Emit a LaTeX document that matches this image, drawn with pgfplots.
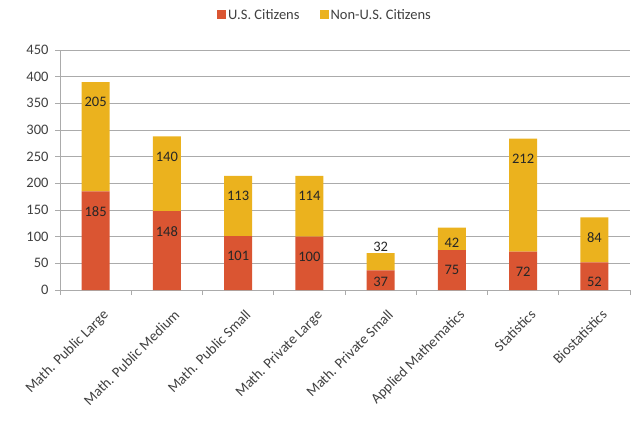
\documentclass[border=0pt]{standalone}
\usepackage{pgfplots}
\pgfplotsset{compat=1.18}
\usepackage{pgfplotstable}
\usepackage{fontspec}
\setmainfont{Carlito}
\definecolor{usred}{HTML}{DA5532}
\definecolor{nonyel}{HTML}{EBB21E}
\definecolor{gridgray}{HTML}{ABABAB}
\definecolor{txt}{HTML}{404040}
\newcommand\fs{\fontsize{14.5bp}{17bp}\selectfont}

\pgfplotstableread{
x y
0 185
1 148
2 101
3 100
4 37
5 75
6 72
7 52
}\us

\pgfplotstableread{
x y
0 205
1 140
2 113
3 114
4 32
5 42
6 212
7 84
}\nonus

\begin{document}
\begin{tikzpicture}
\begin{axis}[
  scale only axis, width=570bp, height=240bp,
  ybar stacked, bar width=28bp,
  xmin=-0.5, xmax=7.5, ymin=0, ymax=450,
  axis x line=bottom, axis y line=left,
  axis line style={gridgray, line width=1bp, -},
  ytick={0,50,...,450},
  xtick={-0.5,0.5,...,7.5}, xticklabels={},
  extra x ticks={0,1,2,3,4,5,6,7},
  extra x tick labels={Math. Public Large, Math. Public Medium, Math. Public Small, Math. Private Large, Math. Private Small, Applied Mathematics, Statistics, Biostatistics},
  extra x tick style={tick style={draw=none}, xticklabel style={rotate=45, anchor=north east, inner sep=2bp, yshift=-12bp, xshift=-3bp}},
  tick align=outside, major tick length=5bp,
  tick style={gridgray, line width=1bp},
  ymajorgrids, grid style={gridgray, line width=1bp},
  tick label style={font=\fs, color=txt},
  /pgf/number format/assume math mode=true,
  yticklabel style={xshift=-3bp},
  point meta=explicit symbolic,
  nodes near coords,
  legend style={draw=none, font=\fs, text=txt, legend columns=2,
    at={(axis description cs:0.465,1.146)}, anchor=center,
    /tikz/every even column/.append style={column sep=18bp}},
]
\addplot[fill=usred, draw=none,
  visualization depends on={x \as \xv},
  visualization depends on={rawy \as \yv},
  nodes near coords style={font=\fs, color=black!85, anchor=center, yshift={ifthenelse(\xv==4,-2.1,0.26667*\yv-20)}},
  legend image code/.code={\fill[usred] (0bp,-4.5bp) rectangle (9bp,4.5bp);}]
  table[x=x, y=y, meta=y] {\us};
\addlegendentry{U.S. Citizens}
\addplot[fill=nonyel, draw=none,
  visualization depends on={x \as \xv},
  visualization depends on={rawy \as \yv},
  nodes near coords style={font=\fs, color=black!85, anchor=center, yshift={ifthenelse(\xv==4,14.5,ifthenelse(\xv==5,-4.2,0.26667*\yv-20))}},
  legend image code/.code={\fill[nonyel] (0bp,-4.5bp) rectangle (9bp,4.5bp);}]
  table[x=x, y=y, meta=y] {\nonus};
\addlegendentry{Non-U.S. Citizens}
\end{axis}
\pgfresetboundingbox
\path ([xshift=-60bp,yshift=-132bp]current axis.south west) rectangle ([xshift=6bp,yshift=50bp]current axis.north east);
\end{tikzpicture}
\end{document}
